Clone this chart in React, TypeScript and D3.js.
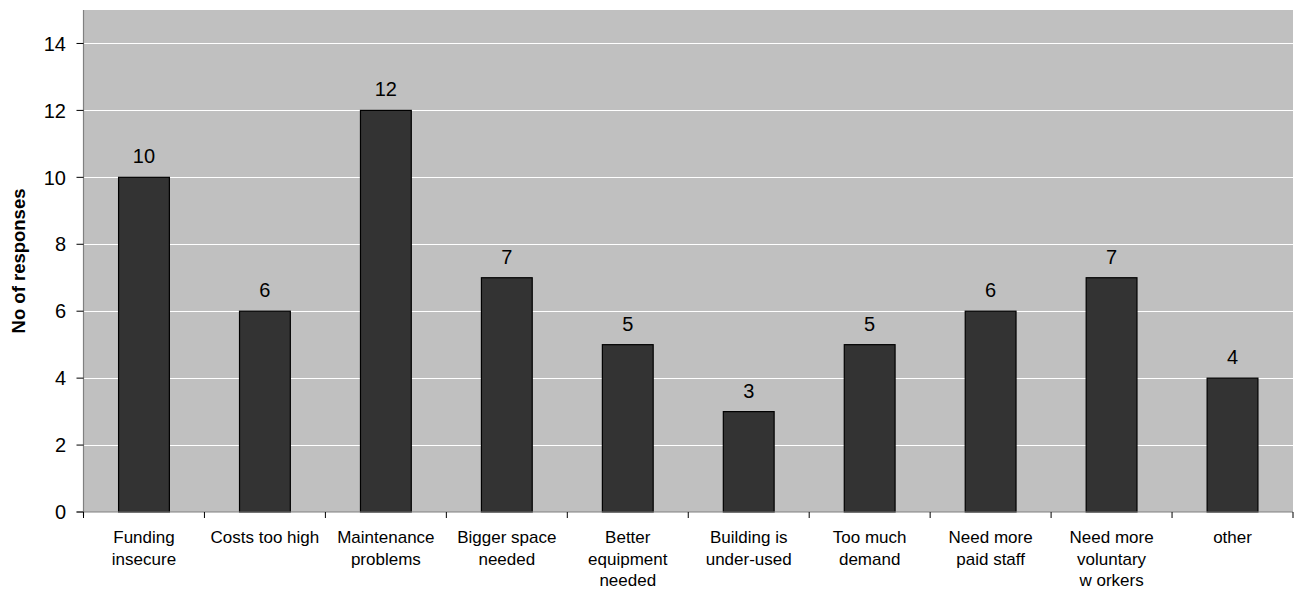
import React from "react";
import * as d3 from "d3";

const categories: string[] = [
  "Funding\ninsecure",
  "Costs too high",
  "Maintenance\nproblems",
  "Bigger space\nneeded",
  "Better\nequipment\nneeded",
  "Building is\nunder-used",
  "Too much\ndemand",
  "Need more\npaid staff",
  "Need more\nvoluntary\nw orkers",
  "other",
];
const responses: number[] = [10, 6, 12, 7, 5, 3, 5, 6, 7, 4];
const yTicks: number[] = [0, 2, 4, 6, 8, 10, 12, 14];
const yTitle = "No of responses";

const W = 1303;
const H = 590;
const left = 83.5;
const right = 1293;
const top = 10;
const bottom = 512;
const FONT = "'Liberation Sans', Arial, sans-serif";

export default function App() {
  const x = d3
    .scaleBand<string>()
    .domain(categories)
    .range([left, right])
    .paddingInner(0.58)
    .paddingOuter(0.29);
  const step = x.step();
  const y = d3.scaleLinear().domain([0, 15]).range([bottom, top]);

  return (
    <svg
      width={W}
      height={H}
      style={{ position: "absolute", left: 0, top: 0, display: "block" }}
      fontFamily={FONT}
    >
      <rect x={left} y={top} width={right - left} height={bottom - top} fill="#c0c0c0" />
      {yTicks
        .filter((t) => t > 0)
        .map((t) => (
          <line
            key={"g" + t}
            x1={left}
            x2={right}
            y1={Math.round(y(t)) + 0.5}
            y2={Math.round(y(t)) + 0.5}
            stroke="#ffffff"
            strokeWidth={1}
          />
        ))}
      {categories.map((c, i) => {
        const v = responses[i];
        const bx = x(c)!;
        const bw = x.bandwidth();
        return (
          <g key={c}>
            <rect
              x={bx}
              y={y(v)}
              width={bw}
              height={y(0) - y(v)}
              fill="#333333"
              stroke="#000000"
              strokeWidth={1.2}
            />
            <text
              x={bx + bw / 2}
              y={y(v) - 14}
              textAnchor="middle"
              fontSize={20}
              fill="#000"
            >
              {v}
            </text>
          </g>
        );
      })}
      {/* axes */}
      <line x1={left} x2={left} y1={top} y2={bottom + 4} stroke="#808080" strokeWidth={1.2} />
      <line x1={left - 7} x2={right} y1={bottom} y2={bottom} stroke="#808080" strokeWidth={1.2} />
      {yTicks.map((t) => (
        <g key={"t" + t}>
          <line x1={left - 7} x2={left} y1={y(t)} y2={y(t)} stroke="#000" strokeWidth={1} />
          <text
            x={66}
            y={y(t)}
            dy="0.36em"
            textAnchor="end"
            fontSize={20}
            fill="#000"
          >
            {t}
          </text>
        </g>
      ))}
      {d3.range(categories.length + 1).map((i) => {
        const tx = left + step * i;
        return (
          <line key={"xt" + i} x1={tx} x2={tx} y1={bottom} y2={bottom + 6} stroke="#000" strokeWidth={1} />
        );
      })}
      {categories.map((c) => {
        const cx = x(c)! + x.bandwidth() / 2;
        const lines = c.split("\n");
        return (
          <text key={"l" + c} textAnchor="middle" fontSize={17} fill="#000">
            {lines.map((ln, j) => (
              <tspan key={j} x={cx} y={543 + j * 21.5}>
                {ln}
              </tspan>
            ))}
          </text>
        );
      })}
      <text
        transform={`translate(25, ${(top + bottom) / 2}) rotate(-90)`}
        textAnchor="middle"
        fontSize={18.5}
        fontWeight="bold"
        fill="#000"
      >
        {yTitle}
      </text>
    </svg>
  );
}
